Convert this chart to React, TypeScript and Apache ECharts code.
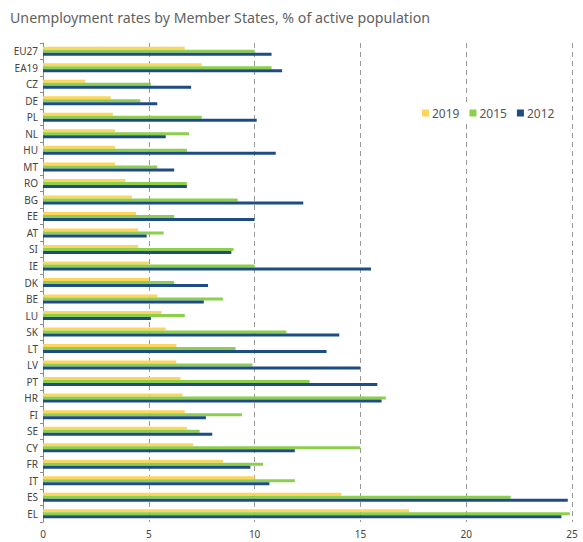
import React, { useEffect, useRef } from "react";
import * as echarts from "echarts";

const categories = [
  "EU27", "EA19", "CZ", "DE", "PL", "NL", "HU", "MT", "RO", "BG", "EE", "AT", "SI", "IE", "DK",
  "BE", "LU", "SK", "LT", "LV", "PT", "HR", "FI", "SE", "CY", "FR", "IT", "ES", "EL",
];
const values2019 = [
  6.7, 7.5, 2.0, 3.2, 3.3, 3.4, 3.4, 3.4, 3.9, 4.2, 4.4, 4.5, 4.5, 5.0, 5.0,
  5.4, 5.6, 5.8, 6.3, 6.3, 6.5, 6.6, 6.7, 6.8, 7.1, 8.5, 10.0, 14.1, 17.3,
];
const values2015 = [
  10.0, 10.8, 5.1, 4.6, 7.5, 6.9, 6.8, 5.4, 6.8, 9.2, 6.2, 5.7, 9.0, 10.0, 6.2,
  8.5, 6.7, 11.5, 9.1, 9.9, 12.6, 16.2, 9.4, 7.4, 15.0, 10.4, 11.9, 22.1, 24.9,
];
const values2012 = [
  10.8, 11.3, 7.0, 5.4, 10.1, 5.8, 11.0, 6.2, 6.8, 12.3, 10.0, 4.9, 8.9, 15.5, 7.8,
  7.6, 5.1, 14.0, 13.4, 15.0, 15.8, 16.0, 7.7, 8.0, 11.9, 9.8, 10.7, 24.8, 24.5,
];
const seriesNames = ["2019", "2015", "2012"];
const colors = ["#FDD55C", "#8CCF4D", "#1E4C85"];
const titleText = "Unemployment rates by Member States, % of active population";

export default function App() {
  const ref = useRef<HTMLDivElement>(null);
  useEffect(() => {
    if (!ref.current) return;
    const chart = echarts.init(ref.current, null, { renderer: "svg" });
    const data = [values2019, values2015, values2012];
    chart.setOption({
      animation: false,
      backgroundColor: "#ffffff",
      title: {
        text: titleText,
        left: 5,
        top: 5,
        textStyle: {
          fontFamily: "Noto Sans",
          fontSize: 14.2,
          fontWeight: "normal",
          color: "#5f5f5f",
        },
      },
      legend: {
        data: seriesNames,
        left: 418,
        top: 104,
        itemWidth: 7,
        itemHeight: 7,
        itemGap: 10,
        padding: [3, 4],
        backgroundColor: "#ffffff",
        icon: "rect",
        textStyle: { fontFamily: "Noto Sans", fontSize: 12, color: "#555", padding: [0, 0, 0, -2] },
      },
      grid: { left: 43, right: 11, top: 43, bottom: 20 },
      xAxis: {
        type: "value",
        min: 0,
        max: 25,
        interval: 5,
        axisLine: { show: false },
        axisTick: { show: false },
        axisLabel: { fontFamily: "Noto Sans", fontSize: 10, color: "#444", margin: 7 },
        splitLine: { show: true, lineStyle: { type: [5, 4], color: "#999", width: 1 } },
      },
      yAxis: {
        type: "category",
        inverse: true,
        data: categories,
        axisLine: { show: true, lineStyle: { color: "#8c8c8c" } },
        axisTick: { show: true, length: 3, lineStyle: { color: "#8c8c8c" } },
        axisLabel: { fontFamily: "Noto Sans", fontSize: 10, color: "#444", margin: 5 },
        splitLine: { show: false },
      },
      series: seriesNames.map((name, i) => ({
        name,
        type: "bar",
        data: data[i],
        barWidth: 3,
        barGap: "0%",
        itemStyle: { color: colors[i] },
      })),
    });
    return () => chart.dispose();
  }, []);
  return (
    <div
      ref={ref}
      style={{ position: "fixed", left: 0, top: 0, width: 583, height: 542 }}
    />
  );
}
